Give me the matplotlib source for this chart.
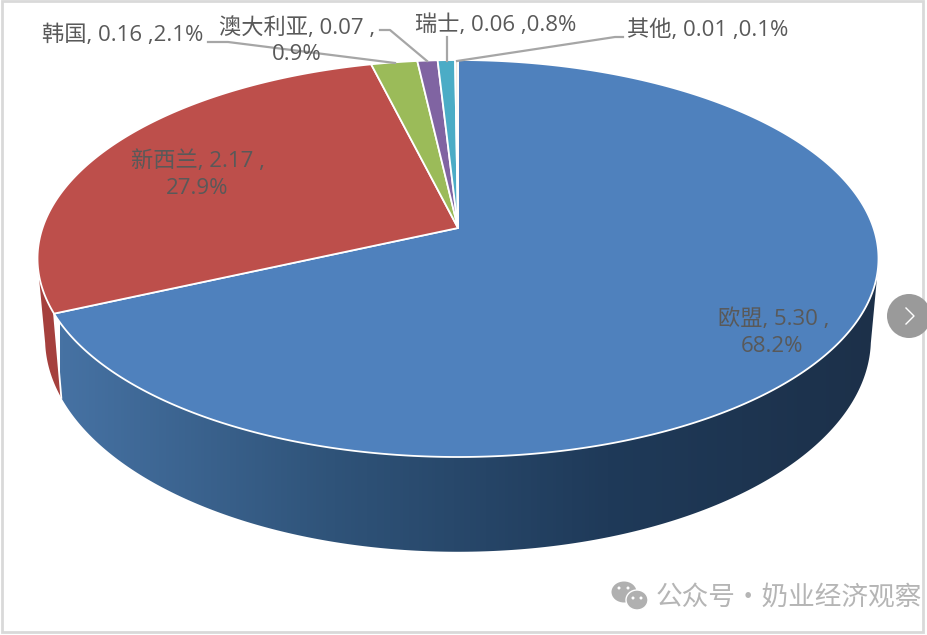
import numpy as np
import matplotlib
matplotlib.use('Agg')
import matplotlib.pyplot as plt
from matplotlib.patches import Polygon, Circle, Ellipse, Rectangle
from matplotlib.colors import LinearSegmentedColormap

names = ['欧盟', '新西兰', '韩国', '澳大利亚', '瑞士', '其他']
values = [5.30, 2.17, 0.16, 0.07, 0.06, 0.01]
percents = ['68.2%', '27.9%', '2.1%', '0.9%', '0.8%', '0.1%']
colors = ['#4f81bd', '#bd4f4b', '#9bbb59', '#8064a2', '#4bacc6', '#f2e6d8']

plt.rcParams['font.family'] = ['Open Sans', 'Noto Sans CJK SC', 'DejaVu Sans']

W, H = 927, 635
fig = plt.figure(figsize=(W / 100, H / 100), dpi=100)
ax = fig.add_axes([0, 0, 1, 1])
ax.set_xlim(0, W)
ax.set_ylim(H, 0)
ax.axis('off')

# perspective disc: k tilts the circle so the apex is not the ellipse centre
K = 0.1537
TOP = dict(cx=458, cy=228, a=415.5, b=193.8)
BOTTOM = dict(cx=458, cy=306, a=408, b=208)


def disc_points(theta, cx, cy, a, b):
    u, v = np.sin(theta), np.cos(theta)
    w = 1 / (1 + K * v)
    return np.column_stack([cx + a * u * w, cy - b * v * w])


def arc(t0, t1, disc):
    return disc_points(np.linspace(t0, t1, max(int(abs(t1 - t0) * 120), 2)), **disc)


def wall(t0, t1):
    return np.vstack([arc(t0, t1, BOTTOM), arc(t1, t0, TOP)])


edges = np.concatenate([[0], np.cumsum(values)]) / np.sum(values) * 2 * np.pi

# side wall of the two big slices
blue_wall = Polygon(wall(np.radians(100), edges[1]), closed=True, fc='none', ec='none')
ax.add_patch(blue_wall)
cmap = LinearSegmentedColormap.from_list('wall', ['#4672a3', '#2f5379', '#1f3a59', '#1c3049'])
grad = np.linspace(0, 1, 256).reshape(1, -1)
im = ax.imshow(grad, cmap=cmap, extent=[60, 880, H, 0], aspect='auto', zorder=1)
im.set_clip_path(blue_wall)
ax.set_xlim(0, W)
ax.set_ylim(H, 0)

ax.add_patch(Polygon(wall(edges[1], np.radians(260)), closed=True, fc='#a5403d', ec='none', zorder=1))
edge_line = np.vstack([disc_points(np.array([edges[1]]), **TOP), disc_points(np.array([edges[1]]), **BOTTOM)])
ax.plot(edge_line[:, 0], edge_line[:, 1], color='white', lw=1.3, zorder=2)

# top face
for i, c in enumerate(colors):
    pts = np.vstack([[TOP['cx'], TOP['cy']], arc(edges[i], edges[i + 1], TOP)])
    ax.add_patch(Polygon(pts, closed=True, fc=c, ec='white', lw=1.3, joinstyle='round', zorder=3))

# leader lines
leaders = [
    ([208, 228, 395], [42, 42, 63]),
    ([380, 390, 427], [30, 30, 61]),
    ([447, 447], [37, 61]),
    ([457, 615, 623], [61, 37, 37]),
]
for lx, ly in leaders:
    ax.plot(lx, ly, color='#a6a6a6', lw=1.6, zorder=4)

# labels
TXT = dict(color='#595959', fontsize=16, zorder=5)
ax.text(774, 319, f'{names[0]}, {values[0]:.2f} ,', ha='center', va='center', **TXT)
ax.text(772, 346, percents[0], ha='center', va='center', **TXT)
ax.text(198, 161, f'{names[1]}, {values[1]:.2f} ,', ha='center', va='center', **TXT)
ax.text(197, 188, percents[1], ha='center', va='center', **TXT)
ax.text(42, 35, f'{names[2]}, {values[2]:.2f} ,{percents[2]}', ha='left', va='center', **TXT)
ax.text(219, 28, f'{names[3]}, {values[3]:.2f} ,', ha='left', va='center', **TXT)
ax.text(297, 54, percents[3], ha='center', va='center', **TXT)
ax.text(415, 25, f'{names[4]}, {values[4]:.2f} ,{percents[4]}', ha='left', va='center', **TXT)
ax.text(627, 30, f'{names[5]}, {values[5]:.2f} ,{percents[5]}', ha='left', va='center', **TXT)

# screenshot frame
ax.add_patch(Rectangle((2, 1), 921, 631, fc='none', ec='#d9d9d9', lw=2, zorder=6))

# carousel button
ax.add_patch(Circle((909, 316), 22, fc='#9a9a9a', ec='none', zorder=7))
ax.plot([906, 914, 906], [308, 316, 324], color='white', lw=1.0, zorder=8)

# watermark
ax.add_patch(Ellipse((624, 592), 25, 21, fc='#b0b0b0', ec='none', zorder=7))
ax.add_patch(Ellipse((637, 600), 22, 20, fc='#b0b0b0', ec='white', lw=1, zorder=8))
for ex, ey in [(619, 588), (628, 588), (633, 598), (641, 598)]:
    ax.add_patch(Circle((ex, ey), 1.5, fc='white', ec='none', zorder=9))
ax.text(656, 598, '公众号·奶业经济观察', color='#b5b5b5', fontsize=19.2, ha='left', va='center', zorder=7,
        family=['Noto Sans CJK SC', 'DejaVu Sans'])

fig.savefig('out.png', dpi=100, facecolor='white')
